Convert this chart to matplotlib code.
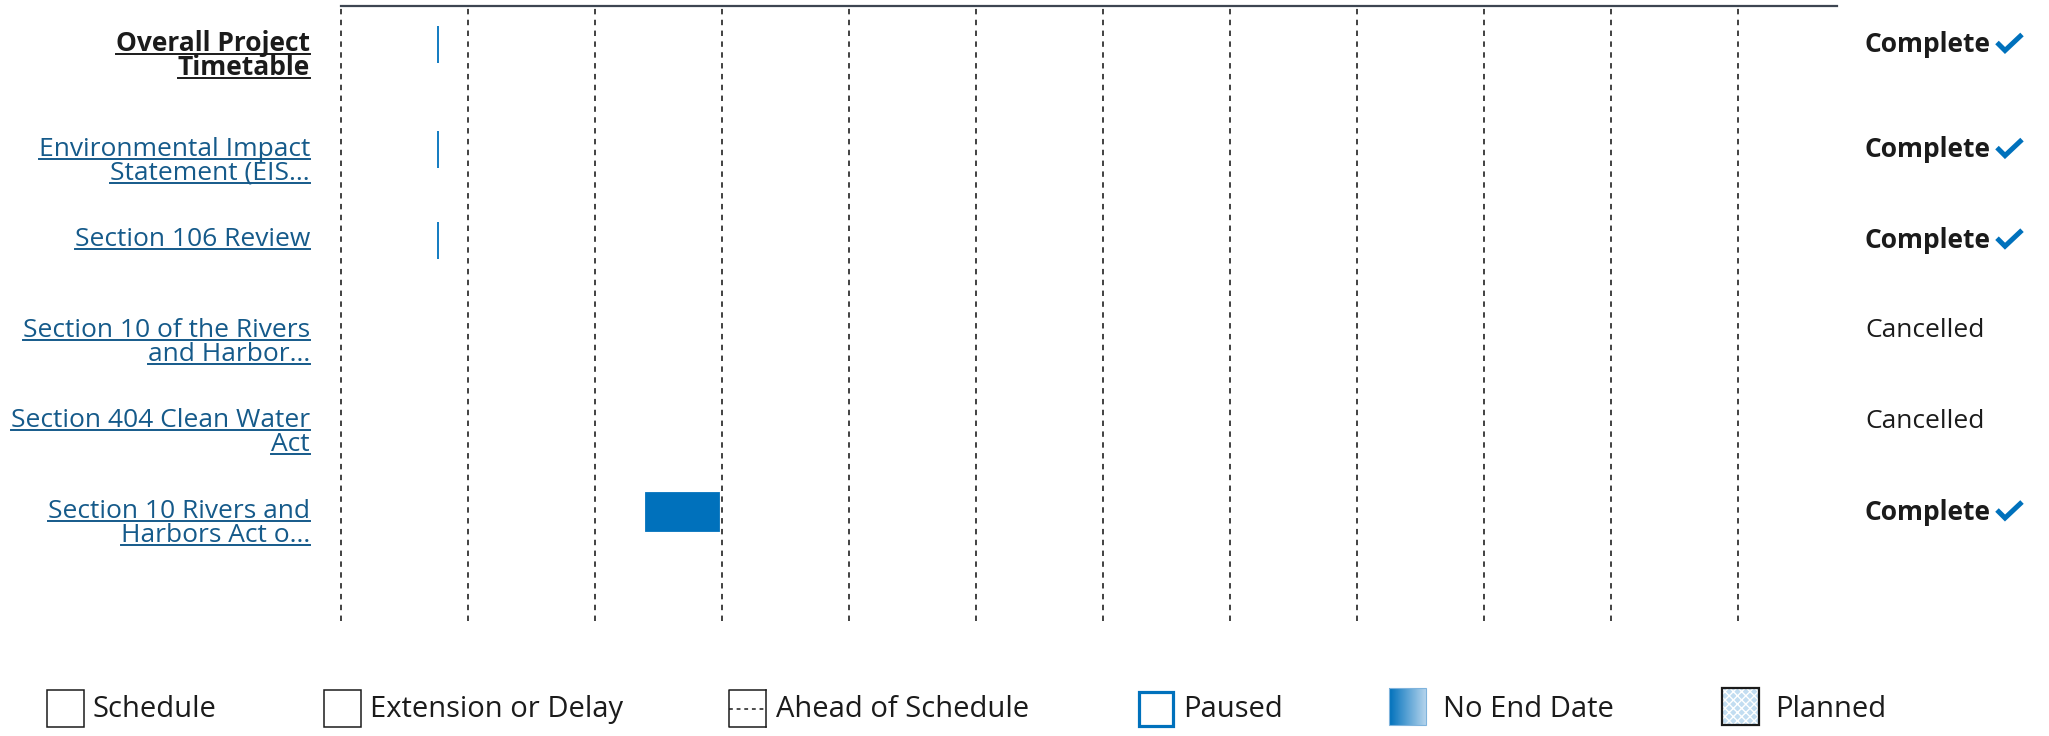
import numpy as np
import matplotlib
matplotlib.use("Agg")
import matplotlib.pyplot as plt
from matplotlib.patches import Rectangle
from matplotlib.lines import Line2D
from matplotlib.transforms import blended_transform_factory, ScaledTranslation

plt.rcParams["font.family"] = ["Open Sans", "DejaVu Sans"]

# timeline data (x in years, gridlines at whole years)
tasks = [
    "Overall Project\nTimetable",
    "Environmental Impact\nStatement (EIS...",
    "Section 106 Review",
    "Section 10 of the Rivers\nand Harbor...",
    "Section 404 Clean Water\nAct",
    "Section 10 Rivers and\nHarbors Act o...",
]
starts = [2015.76, 2015.76, 2015.76, np.nan, np.nan, 2017.40]
ends = [2015.76, 2015.76, 2015.76, np.nan, np.nan, 2017.98]
status = ["Complete", "Complete", "Complete", "Cancelled", "Cancelled", "Complete"]
grid_years = list(range(2015, 2027))
legend_labels = ["Schedule", "Extension or Delay", "Ahead of Schedule",
                 "Paused", "No End Date", "Planned"]

BLUE = "#0071bc"
LINK = "#155a8a"
DARK = "#1b1b1b"

W, H, DPI = 2049, 736, 100
fig = plt.figure(figsize=(W / DPI, H / DPI), dpi=DPI)
ax = fig.add_axes([341 / W, 1 - 621 / H, (1837 - 341) / W, (621 - 6) / H])

n = len(tasks)
ypos = np.arange(n, dtype=float)
ypos[0] -= 0.16  # overall row sits a bit higher

widths = np.array(ends) - np.array(starts)
ax.barh(ypos, widths, left=starts, height=0.41, color=BLUE,
        edgecolor=BLUE, linewidth=1.3)

ax.set_xlim(2015, 2026.78)
ax.set_ylim(6.203, -0.585)
ax.set_xticks(grid_years)
ax.set_xticklabels([])
ax.set_yticks([])
ax.tick_params(length=0)
ax.grid(axis="x", linestyle=(0, (3, 3)), color="#333333", linewidth=1.3)
for gl in ax.get_xgridlines():
    gl.set_clip_on(False)
ax.set_axisbelow(True)
for side in ["left", "right", "bottom"]:
    ax.spines[side].set_visible(False)
ax.spines["top"].set_color("#3d4551")
ax.spines["top"].set_linewidth(1.6)

# row labels, drawn line by line so they can be underlined
blend = blended_transform_factory(fig.transFigure, ax.transData)
label_texts = []
for i, lab in enumerate(tasks):
    bold = i == 0
    for k, line in enumerate(lab.split("\n")):
        tr = blend + ScaledTranslation(0, -(6 + 24 * k) / DPI, fig.dpi_scale_trans)
        t = fig.text(310 / W, ypos[i], line, transform=tr, ha="right", va="baseline",
                     fontsize=19, color=DARK if bold else LINK,
                     fontweight="bold" if bold else "normal")
        label_texts.append(t)

# status column
for i, s in enumerate(status):
    done = s == "Complete"
    fig.text(1865 / W, ypos[i], s, transform=blend, ha="left", va="center",
             fontsize=19, color=DARK, fontweight="bold" if done else "normal")
    if done:
        # check mark drawn as a polyline, in pixels around the row centre
        yc = ax.transData.transform((2015, ypos[i]))[1]
        fig.add_artist(Line2D([1997, 2005, 2022], [yc + 2, yc - 6, yc + 10],
                              transform=None, color=BLUE, linewidth=3.6,
                              solid_joinstyle="miter", solid_capstyle="butt"))

# legend, in figure pixel coordinates
lax = fig.add_axes([0, 0, 1, 1], zorder=-1)
lax.set_xlim(0, W)
lax.set_ylim(H, 0)
lax.axis("off")
box_x = [47, 324, 729, 1137, 1389, 1722]
text_x = [93, 370, 776, 1183, 1443, 1775]
by, bs = 690, 37
for j, lab in enumerate(legend_labels):
    x0 = box_x[j]
    if lab in ("Schedule", "Extension or Delay"):
        lax.add_patch(Rectangle((x0, by), bs, bs, facecolor="white",
                                edgecolor=DARK, linewidth=1.1))
    elif lab == "Ahead of Schedule":
        lax.plot([x0 + bs, x0, x0, x0 + bs], [by, by, by + bs, by + bs],
                 color=DARK, linewidth=1.1)
        lax.plot([x0, x0 + bs], [by + bs / 2, by + bs / 2], color=DARK,
                 linewidth=1.1, linestyle=(0, (2.5, 2.5)))
        lax.plot([x0 + bs, x0 + bs], [by, by + bs], color=DARK, linewidth=1.1)
    elif lab == "Paused":
        lax.add_patch(Rectangle((x0 + 1.5, by + 1.5), bs - 3, bs - 3,
                                facecolor="white", edgecolor=BLUE, linewidth=2.3))
    elif lab == "No End Date":
        grad = np.linspace(0, 1, 64)[None, :]
        cmap = matplotlib.colors.LinearSegmentedColormap.from_list(
            "ned", [BLUE, "#b3d3ec"])
        lax.imshow(grad, cmap=cmap, aspect="auto",
                   extent=(x0, x0 + bs, by + bs - 2, by - 2))
        lax.add_patch(Rectangle((x0, by - 2), bs, bs, facecolor="none",
                                edgecolor="#7fb3dc", linewidth=0.8))
    else:
        plt.rcParams["hatch.linewidth"] = 1.0
        lax.add_patch(Rectangle((x0, by - 2), bs, bs, facecolor="#c2ddf1",
                                edgecolor="white", hatch="xxxx", linewidth=0))
        lax.add_patch(Rectangle((x0, by - 2), bs, bs, facecolor="none",
                                edgecolor=DARK, linewidth=1.6))
    lax.text(text_x[j], by + bs / 2 + 1, lab, ha="left", va="center",
             fontsize=21, color=DARK)

# underline the row labels
fig.canvas.draw()
renderer = fig.canvas.get_renderer()
for t in label_texts:
    bb = t.get_window_extent(renderer)
    yb = t.get_transform().transform(t.get_position())[1]
    fig.add_artist(Line2D([bb.x0, bb.x1], [yb - 3, yb - 3], transform=None,
                          color=t.get_color(), linewidth=1.4))

fig.savefig("out.png", dpi=DPI)
